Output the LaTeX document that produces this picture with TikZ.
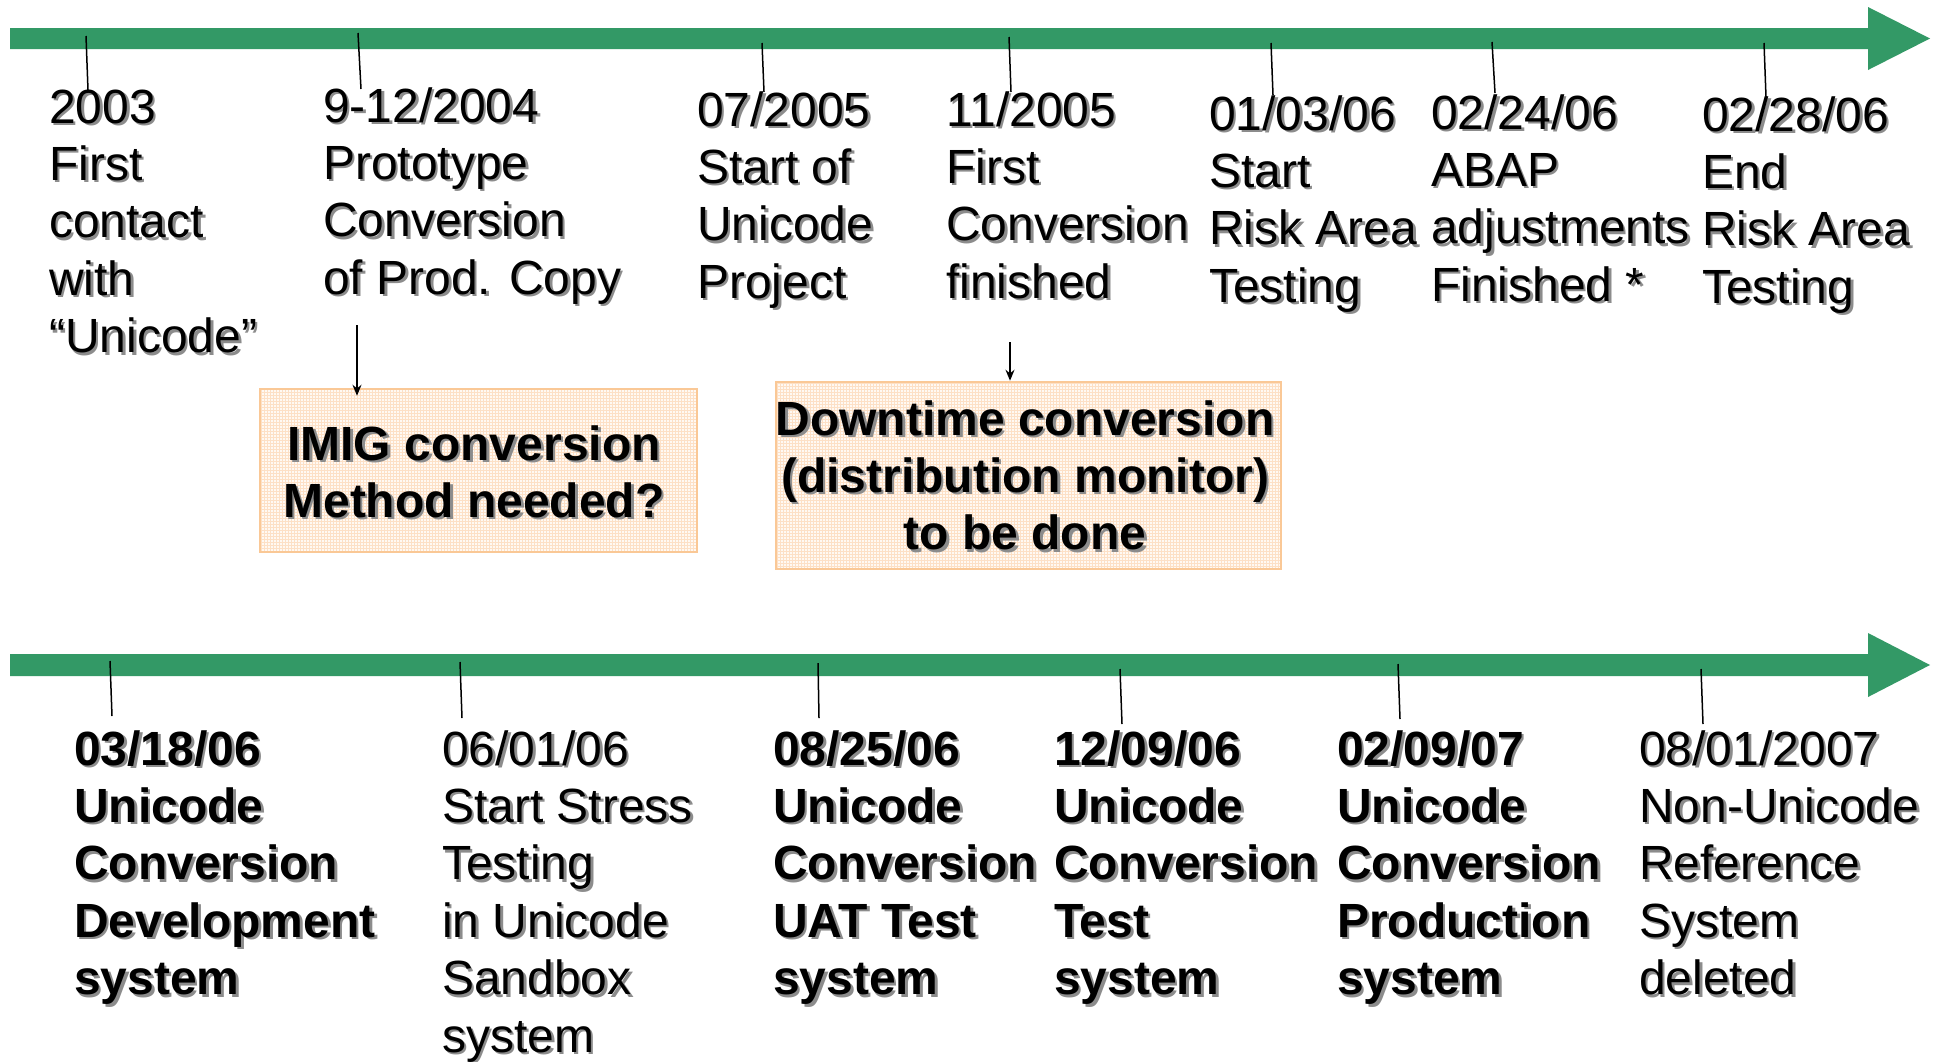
\documentclass[tikz,border=0pt]{standalone}
\usepackage{fontspec}
\setmainfont{Liberation Sans}
\usetikzlibrary{arrows.meta,patterns}
\definecolor{bargreen}{HTML}{339966}
\definecolor{boxedge}{HTML}{FAC896}
\definecolor{boxfill}{HTML}{FFF9F3}
\definecolor{gridc}{HTML}{FDE0C6}
\definecolor{shadowc}{HTML}{8C8C8C}
\newcommand\LeftLines[1]{\vtop{\baselineskip=57.4pt\lineskiplimit=-100pt\halign{##\hfil\cr#1\crcr}}}
\newcommand\MidLines[1]{\vtop{\baselineskip=57.4pt\lineskiplimit=-100pt\halign{\hfil##\hfil\cr#1\crcr}}}
\tikzset{
  evtxt/.style={anchor=base west, inner sep=0pt, font=\fontsize{48}{57.4}\selectfont},
  midtxt/.style={anchor=base, inner sep=0pt, font=\fontsize{48}{57.4}\selectfont\bfseries},
  shad/.style={text=shadowc, xshift=2.5pt, yshift=-2.5pt},
  tick/.style={line width=1.5pt, black},
  pointer/.style={-{Stealth[length=11pt,width=9pt]}, line width=1.5pt, black},
  boxst/.style={draw=boxedge, line width=2.5pt, preaction={fill=boxfill}, pattern=grid, pattern color=gridc, inner sep=0pt}
}
\newcommand\evt[5]{%
  \node[evtxt,#4,shad] (#1s) at (#2,#3) {\LeftLines{#5}};
  \node[evtxt,#4] (#1) at (#2,#3) {\LeftLines{#5}};}
\newcommand\midblock[4]{%
  \node[midtxt,shad] (#1s) at (#2,#3) {\MidLines{#4}};
  \node[midtxt] (#1) at (#2,#3) {\MidLines{#4}};}
\begin{document}
\begin{tikzpicture}[x=1pt,y=-1pt]
\useasboundingbox[fill=white] (0,0) rectangle (1934,1061);
% timeline arrows
\fill[bargreen] (10,28) -- (1868,28) -- (1868,7) -- (1930,38.5) -- (1868,70) -- (1868,49) -- (10,49) -- cycle;
\fill[bargreen] (10,654) -- (1868,654) -- (1868,633) -- (1930,665) -- (1868,697) -- (1868,676) -- (10,676) -- cycle;
% top ticks
\coordinate (t1a) at (86,36);   \coordinate (t1b) at (88,90);
\coordinate (t2a) at (358,33);  \coordinate (t2b) at (361,89);
\coordinate (t3a) at (762,43);  \coordinate (t3b) at (764,92);
\coordinate (t4a) at (1009,37); \coordinate (t4b) at (1011,92);
\coordinate (t5a) at (1271,43); \coordinate (t5b) at (1273,95);
\coordinate (t6a) at (1492,42); \coordinate (t6b) at (1495,93);
\coordinate (t7a) at (1764,43); \coordinate (t7b) at (1766,97);
\foreach \i in {1,...,7} {\draw[tick] (t\i a) -- (t\i b);}
% bottom ticks
\coordinate (b1a) at (110,661);  \coordinate (b1b) at (112,716);
\coordinate (b2a) at (460,662);  \coordinate (b2b) at (462,718);
\coordinate (b3a) at (818,663);  \coordinate (b3b) at (819,718);
\coordinate (b4a) at (1120,669); \coordinate (b4b) at (1122,724);
\coordinate (b5a) at (1398,664); \coordinate (b5b) at (1400,719);
\coordinate (b6a) at (1701,669); \coordinate (b6b) at (1703,724);
\foreach \i in {1,...,6} {\draw[tick] (b\i a) -- (b\i b);}
% boxes
\node[boxst, minimum width=437pt, minimum height=163pt] (box1) at (478.5,470.5) {};
\node[boxst, minimum width=505pt, minimum height=187pt] (box2) at (1028.5,475.5) {};
\coordinate (a1) at (357,325);
\coordinate (a2) at (1010,342);
\draw[pointer, shorten >=-8pt] (a1) -- (a1 |- box1.north);
\draw[pointer] (a2) -- (a2 |- box2.north);
\midblock{m1}{474}{460}{IMIG conversion\cr Method needed?}
\midblock{m2}{1025}{435}{Downtime conversion\cr (distribution monitor)\cr to be done}
% top events
\evt{e1}{49}{123}{}{2003\cr First\cr contact\cr with\cr “Unicode”}
\evt{e2}{323}{122}{}{9-12/2004\cr Prototype\cr Conversion\cr of Prod. Copy}
\evt{e3}{697}{126}{}{07/2005\cr Start of\cr Unicode\cr Project}
\evt{e4}{946}{126}{}{11/2005\cr First\cr Conversion\cr finished}
\evt{e5}{1209}{130}{}{01/03/06\cr Start\cr Risk Area\cr Testing}
\evt{e6}{1431}{129}{}{02/24/06\cr ABAP\cr adjustments\cr Finished *}
\evt{e7}{1702}{131}{}{02/28/06\cr End\cr Risk Area\cr Testing}
% bottom events
\evt{f1}{74}{765}{font=\fontsize{48}{57.4}\selectfont\bfseries}{03/18/06\cr Unicode\cr Conversion\cr Development\cr system}
\evt{f2}{442}{765}{}{06/01/06\cr Start Stress\cr Testing\cr in Unicode\cr Sandbox\cr system}
\evt{f3}{773}{765}{font=\fontsize{48}{57.4}\selectfont\bfseries}{08/25/06\cr Unicode\cr Conversion\cr UAT Test\cr system}
\evt{f4}{1054}{765}{font=\fontsize{48}{57.4}\selectfont\bfseries}{12/09/06\cr Unicode\cr Conversion\cr Test\cr system}
\evt{f5}{1337}{765}{font=\fontsize{48}{57.4}\selectfont\bfseries}{02/09/07\cr Unicode\cr Conversion\cr Production\cr system}
\evt{f6}{1639}{765}{}{08/01/2007\cr Non-Unicode\cr Reference\cr System\cr deleted}
\end{tikzpicture}
\end{document}
